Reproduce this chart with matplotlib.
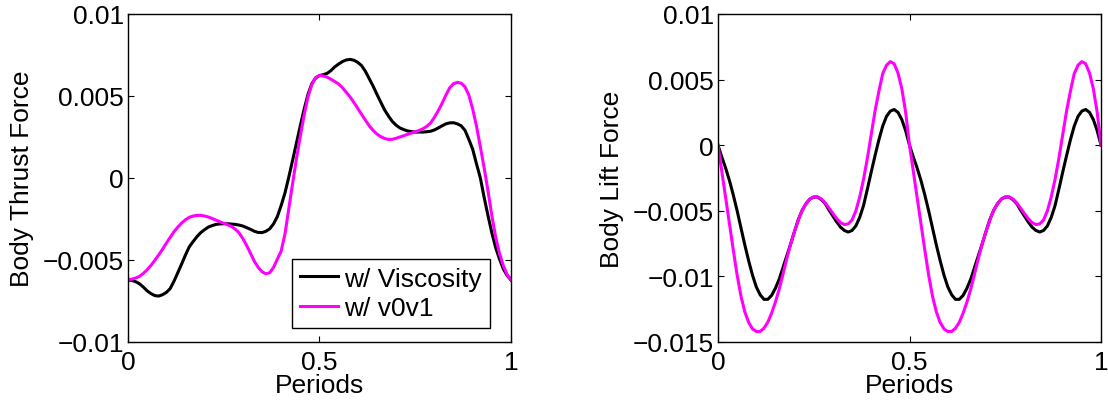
import matplotlib
matplotlib.use('Agg')
import matplotlib.pyplot as plt
import numpy as np

plt.rcParams['font.family'] = ['Liberation Sans', 'DejaVu Sans']
plt.rcParams['font.size'] = 19

# time axis in periods, one sample every 0.01
periods = np.linspace(0, 1, 101)

# thrust force on the body (units of 1e-3)
thrust_visc = [
    -6.22, -6.25, -6.32, -6.45, -6.65, -6.88, -7.05, -7.17, -7.2, -7.12,
    -6.98, -6.75, -6.3, -5.78, -5.25, -4.7, -4.2, -3.88, -3.58, -3.33,
    -3.15, -2.99, -2.9, -2.83, -2.8, -2.79, -2.79, -2.81, -2.83, -2.87,
    -2.93, -3.03, -3.13, -3.25, -3.32, -3.33, -3.25, -3.1, -2.8, -2.35,
    -1.67, -0.9, 0.07, 1.1, 2.15, 3.2, 4.2, 5.1, 5.75, 6.1,
    6.25, 6.3, 6.38, 6.55, 6.78, 6.95, 7.1, 7.2, 7.23, 7.18,
    7.05, 6.85, 6.5, 6.05, 5.6, 5.1, 4.62, 4.15, 3.78, 3.45,
    3.22, 3.05, 2.95, 2.87, 2.83, 2.8, 2.8, 2.8, 2.82, 2.85,
    2.93, 3.05, 3.18, 3.3, 3.36, 3.37, 3.3, 3.18, 2.9, 2.35,
    1.75, 0.85, 0.0, -1.2, -2.3, -3.35, -4.25, -4.95, -5.55, -5.95,
    -6.22]
thrust_v0v1 = [
    -6.2, -6.17, -6.1, -6.0, -5.82, -5.6, -5.33, -5.02, -4.7, -4.35,
    -3.98, -3.63, -3.28, -3.0, -2.75, -2.55, -2.4, -2.32, -2.28, -2.28,
    -2.32, -2.38, -2.47, -2.57, -2.67, -2.76, -2.85, -2.95, -3.12, -3.35,
    -3.7, -4.12, -4.6, -5.08, -5.45, -5.72, -5.84, -5.78, -5.45, -4.95,
    -4.45, -3.4, -1.85, -0.3, 1.2, 2.55, 3.85, 4.95, 5.7, 6.12,
    6.25, 6.22, 6.15, 6.02, 5.88, 5.73, 5.5, 5.22, 4.94, 4.6,
    4.24, 3.88, 3.52, 3.18, 2.9, 2.68, 2.52, 2.41, 2.35, 2.36,
    2.42, 2.5, 2.58, 2.66, 2.74, 2.82, 2.9, 3.0, 3.15, 3.35,
    3.7, 4.1, 4.55, 5.05, 5.5, 5.75, 5.83, 5.78, 5.55, 5.05,
    4.2, 3.15, 1.9, 0.6, -0.8, -2.3, -3.6, -4.6, -5.35, -5.9,
    -6.2]

# lift force on the body (units of 1e-3)
lift_visc = [
    0.0, -0.9, -1.75, -2.7, -3.8, -5.0, -6.3, -7.6, -8.8, -9.9,
    -10.8, -11.4, -11.75, -11.75, -11.45, -10.9, -10.2, -9.3, -8.4, -7.5,
    -6.55, -5.65, -4.95, -4.45, -4.1, -3.95, -3.95, -4.15, -4.45, -4.95,
    -5.4, -5.85, -6.25, -6.5, -6.62, -6.5, -6.15, -5.5, -4.6, -3.35,
    -2.05, -0.8, 0.4, 1.45, 2.2, 2.6, 2.72, 2.5, 1.95, 1.1,
    0.0, -0.9, -1.75, -2.7, -3.8, -5.0, -6.3, -7.6, -8.8, -9.9,
    -10.8, -11.4, -11.75, -11.75, -11.45, -10.9, -10.2, -9.3, -8.4, -7.5,
    -6.55, -5.65, -4.95, -4.45, -4.1, -3.95, -3.95, -4.15, -4.45, -4.95,
    -5.4, -5.85, -6.25, -6.5, -6.62, -6.5, -6.15, -5.5, -4.6, -3.35,
    -2.05, -0.8, 0.4, 1.45, 2.2, 2.6, 2.72, 2.5, 1.95, 1.1,
    0.0]
lift_v0v1 = [
    0.0, -2.0, -4.0, -6.0, -8.0, -9.9, -11.5, -12.7, -13.5, -14.0,
    -14.2, -14.2, -13.95, -13.5, -12.8, -11.95, -10.95, -9.8, -8.6, -7.5,
    -6.55, -5.7, -4.95, -4.45, -4.1, -3.95, -3.95, -4.1, -4.4, -4.8,
    -5.2, -5.6, -5.9, -6.05, -6.0, -5.7, -5.0, -3.95, -2.6, -1.0,
    0.8, 2.6, 4.1, 5.45, 6.1, 6.37, 6.2, 5.5, 4.3, 2.5,
    0.0, -2.0, -4.0, -6.0, -8.0, -9.9, -11.5, -12.7, -13.5, -14.0,
    -14.2, -14.2, -13.95, -13.5, -12.8, -11.95, -10.95, -9.8, -8.6, -7.5,
    -6.55, -5.7, -4.95, -4.45, -4.1, -3.95, -3.95, -4.1, -4.4, -4.8,
    -5.2, -5.6, -5.9, -6.05, -6.0, -5.7, -5.0, -3.95, -2.6, -1.0,
    0.8, 2.6, 4.1, 5.45, 6.1, 6.37, 6.2, 5.5, 4.3, 2.5,
    0.0]

series_labels = ['w/ Viscosity', 'w/ v0v1']
x_ticks = [0, 0.5, 1]
x_ticklabels = ['0', '0.5', '1']
thrust_ticks = [-0.01, -0.005, 0, 0.005, 0.01]
thrust_ticklabels = ['\u22120.01', '\u22120.005', '0', '0.005', '0.01']
lift_ticks = [-0.015, -0.01, -0.005, 0, 0.005, 0.01]
lift_ticklabels = ['\u22120.015', '\u22120.01', '\u22120.005', '0', '0.005', '0.01']


def style_axes(ax, yticks, yticklabels, ylabel):
    ax.set_xlim(0, 1)
    ax.set_ylim(yticks[0], yticks[-1])
    ax.set_xticks(x_ticks)
    ax.set_xticklabels(x_ticklabels)
    ax.set_yticks(yticks)
    ax.set_yticklabels(yticklabels)
    ax.tick_params(direction='in', top=True, right=True, length=4, width=0.8)
    ax.tick_params(axis='x', pad=6)
    ax.tick_params(axis='y', pad=3)
    for s in ax.spines.values():
        s.set_linewidth(1.0)
    ax.set_xlabel('Periods', labelpad=-1)
    ax.set_ylabel(ylabel)
    ax.yaxis.set_label_coords(-0.245, 0.5)


fig = plt.figure(figsize=(11.08, 4.02), dpi=100)

# thrust
ax1 = fig.add_axes([0.1155, 0.1468, 0.3457, 0.8159])
ax1.plot(periods, np.array(thrust_visc) * 1e-3, color='black', lw=2.2, label=series_labels[0])
ax1.plot(periods, np.array(thrust_v0v1) * 1e-3, color='#ff00ff', lw=2.2, label=series_labels[1])
style_axes(ax1, thrust_ticks, thrust_ticklabels, 'Body Thrust Force')
leg = ax1.legend(loc='lower right', bbox_to_anchor=(0.945, 0.043), fancybox=False,
                 framealpha=1, edgecolor='black', borderpad=0.3, labelspacing=0.2,
                 handlelength=1.45, handletextpad=0.25, borderaxespad=0)
leg.get_frame().set_linewidth(1.0)

# lift
ax2 = fig.add_axes([0.648, 0.1468, 0.3457, 0.8159])
ax2.plot(periods, np.array(lift_visc) * 1e-3, color='black', lw=2.2)
ax2.plot(periods, np.array(lift_v0v1) * 1e-3, color='#ff00ff', lw=2.2)
style_axes(ax2, lift_ticks, lift_ticklabels, 'Body Lift Force')

fig.savefig('out.png', dpi=100)
